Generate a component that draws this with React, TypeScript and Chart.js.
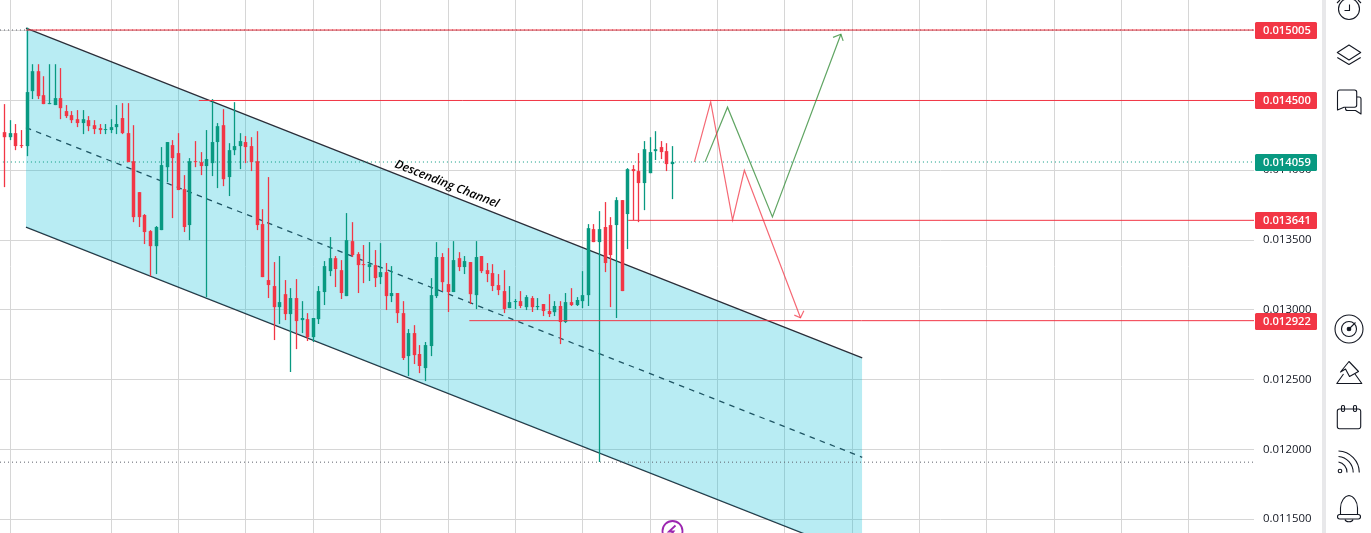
import React, { useEffect, useRef } from "react";
import { Chart, registerables } from "chart.js";

Chart.register(...registerables);

const opens = [
0.014273,0.014237,0.014266,0.014180,0.014173,0.014567,0.014710,0.014538,0.014474,0.014467,
0.014517,0.014424,0.014395,0.014366,0.014338,0.014359,0.014323,0.014302,0.014288,0.014288,
0.014309,0.014374,0.014266,0.014065,0.013843,0.013679,0.013564,0.013456,0.013571,0.014022,
0.014180,0.014123,0.013865,0.013607,0.014065,0.014058,0.014030,0.014051,0.014202,0.014323,
0.013951,0.014144,0.014173,0.014202,0.014173,0.014065,0.013614,0.013213,0.013170,0.013019,
0.013112,0.012969,0.013084,0.012926,0.012933,0.012804,0.012933,0.013127,0.013277,0.013370,
0.013284,0.013098,0.013492,0.013399,0.013327,0.013306,0.013320,0.013234,0.013270,0.013098,
0.013120,0.012976,0.012668,0.012833,0.012683,0.012582,0.012740,0.013098,0.013378,0.013184,
0.013127,0.013370,0.013306,0.013342,0.013105,0.013385,0.013284,0.013263,0.013177,0.013134,
0.013012,0.013055,0.013062,0.013019,0.013084,0.013019,0.013041,0.012991,0.012983,0.013027,
0.012912,0.013055,0.013034,0.013062,0.013105,0.013578,0.013485,0.013593,0.013607,0.013607,
0.013786,0.013686,0.014008,0.013994,0.013908,0.013979,0.014137,0.014166,0.014137,0.014044];
const closes = [
0.014237,0.014266,0.014173,0.014173,0.014560,0.014710,0.014531,0.014474,0.014481,0.014517,
0.014445,0.014388,0.014359,0.014338,0.014366,0.014316,0.014295,0.014288,0.014295,0.014309,
0.014331,0.014266,0.014058,0.013664,0.013664,0.013557,0.013456,0.013593,0.014037,0.014202,
0.014087,0.013858,0.013593,0.014065,0.014058,0.014030,0.014080,0.014202,0.014316,0.013936,
0.014144,0.014173,0.014209,0.014166,0.014058,0.013607,0.013234,0.013177,0.013019,0.013055,
0.012969,0.013084,0.012919,0.012941,0.012804,0.012941,0.013134,0.013313,0.013370,0.013292,
0.013120,0.013499,0.013392,0.013320,0.013320,0.013327,0.013227,0.013270,0.013098,0.013120,
0.012976,0.012654,0.012833,0.012675,0.012597,0.012747,0.013105,0.013378,0.013198,0.013127,
0.013356,0.013306,0.013349,0.013112,0.013378,0.013277,0.013256,0.013170,0.013141,0.013005,
0.013055,0.013062,0.013027,0.013091,0.013019,0.013027,0.012991,0.012969,0.013027,0.012912,
0.013055,0.013034,0.013070,0.013105,0.013585,0.013485,0.013578,0.013335,0.013392,0.013786,
0.013134,0.014008,0.013994,0.013908,0.014151,0.014130,0.014151,0.014130,0.014044,0.014059];
const highs = [
0.014474,0.014359,0.014331,0.014288,0.015022,0.014760,0.014760,0.014674,0.014760,0.014760,
0.014732,0.014467,0.014424,0.014431,0.014431,0.014388,0.014359,0.014331,0.014331,0.014366,
0.014467,0.014481,0.014481,0.014323,0.013843,0.013686,0.013571,0.013600,0.014166,0.014202,
0.014216,0.014266,0.013965,0.014087,0.014209,0.014130,0.014288,0.014510,0.014338,0.014438,
0.014194,0.014488,0.014266,0.014245,0.014237,0.014280,0.013721,0.013951,0.013342,0.013385,
0.013213,0.013155,0.013220,0.013062,0.012976,0.012941,0.013170,0.013349,0.013521,0.013385,
0.013356,0.013693,0.013628,0.013413,0.013464,0.013485,0.013428,0.013478,0.013335,0.013313,
0.013120,0.013062,0.012862,0.012890,0.012747,0.012769,0.013227,0.013485,0.013406,0.013442,
0.013492,0.013413,0.013385,0.013342,0.013492,0.013385,0.013335,0.013327,0.013256,0.013284,
0.013170,0.013077,0.013134,0.013105,0.013098,0.013084,0.013041,0.013112,0.013062,0.013062,
0.013120,0.013155,0.013091,0.013277,0.013614,0.013614,0.013707,0.013772,0.013664,0.013807,
0.013786,0.014015,0.014037,0.014123,0.014209,0.014237,0.014280,0.014209,0.014194,0.014173];
const lows = [
0.013879,0.014216,0.014144,0.014159,0.014101,0.014510,0.014510,0.014474,0.014474,0.014467,
0.014366,0.014374,0.014338,0.014309,0.014259,0.014280,0.014259,0.014259,0.014259,0.014266,
0.014259,0.014259,0.014058,0.013628,0.013593,0.013471,0.013241,0.013256,0.013571,0.013915,
0.013657,0.013858,0.013557,0.013499,0.014022,0.013965,0.013091,0.013958,0.013872,0.013886,
0.013815,0.014108,0.014008,0.014051,0.013994,0.013571,0.013234,0.013084,0.012783,0.012898,
0.012926,0.012554,0.012718,0.012833,0.012776,0.012769,0.012898,0.013034,0.013241,0.013163,
0.013077,0.013098,0.013378,0.013120,0.013191,0.013206,0.013163,0.013184,0.012998,0.013055,
0.012905,0.012640,0.012525,0.012611,0.012546,0.012489,0.012668,0.013084,0.013134,0.012984,
0.013127,0.013277,0.013256,0.013041,0.013005,0.013263,0.013198,0.013134,0.013105,0.012976,
0.013012,0.013005,0.013012,0.012998,0.012984,0.012998,0.012955,0.012948,0.012955,0.012754,
0.012905,0.013027,0.013027,0.013012,0.013027,0.013485,0.011909,0.013270,0.013019,0.012941,
0.013134,0.013435,0.013643,0.013628,0.013714,0.013979,0.014073,0.014080,0.013994,0.013793];

const xGridTicks = [1, 19, 31, 43, 55, 67, 79, 91, 103, 115, 127, 139, 151, 163, 175, 187, 199, 211];
const yTicks = [0.0115, 0.012, 0.0125, 0.013, 0.0135, 0.014, 0.0145, 0.015];

const channelX = [3.81, 152.8];
const channelUpper = [0.015018, 0.012656];
const channelMiddle = [0.014306, 0.011943];
const channelLower = [0.013593, 0.011231];

const xMin = -0.82;
const xMax = 222.6;
const yMin = 0.0114003;
const yMax = 0.0152201;

const levelPrices = [0.015005, 0.0145, 0.013641, 0.012922];
const levelStarts = [3.8, 34.6, 111.1, 82.8];
const lastPrice = 0.014059;
const highMark = 0.015005;
const lowMark = 0.011908;

const redPathX = [122.9, 125.8, 129.7, 131.8, 141.8];
const redPathY = [0.014060, 0.014490, 0.013643, 0.013999, 0.012943];
const redHeadX = [140.7, 141.8, 142.4];
const redHeadY = [0.012962, 0.012943, 0.012993];
const greenPathX = [124.8, 128.8, 136.8, 149.0];
const greenPathY = [0.014060, 0.014452, 0.013666, 0.014975];
const greenHeadX = [147.6, 149.0, 149.4];
const greenHeadY = [0.014952, 0.014975, 0.014927];

const tagValues = [0.015005, 0.0145, 0.014059, 0.013641, 0.012922];
const tagKinds = ["red", "red", "green", "red", "red"];

const channelLabel = "Descending Channel";
const channelLabelX = 78.8;
const channelLabelY = 0.013900;

const RED = "#F23645";
const GREEN = "#089981";
const GRID = "#d6d6d6";

const zip = (xs: number[], ys: number[]) => xs.map((x, i) => ({ x, y: ys[i] }));

const lineSet = (points: { x: number; y: number }[], color: string, order: number, extra: object = {}) => ({
  type: "line" as const,
  data: points,
  borderColor: color,
  borderWidth: 1,
  pointRadius: 0,
  tension: 0,
  fill: false,
  order,
  ...extra,
});

const overlayPlugin = {
  id: "overlays",
  afterDatasetsUpdate(chart: any) {
    chart.data.datasets.forEach((d: any, i: number) => {
      if (d.type !== "bar") return;
      chart.getDatasetMeta(i).data.forEach((el: any) => {
        el.x = Math.floor(el.x) + 0.5;
      });
    });
  },
  afterDraw(chart: any) {
    const { ctx, scales } = chart;
    const y = scales.y;
    const x = scales.x;
    ctx.save();
    tagValues.forEach((v, i) => {
      const py = Math.round(y.getPixelForValue(v)) + 0.5;
      ctx.fillStyle = tagKinds[i] === "red" ? RED : GREEN;
      ctx.beginPath();
      ctx.roundRect(1255, py - 8.5, 62, 17, 1.5);
      ctx.fill();
      ctx.fillStyle = "#ffffff";
      ctx.font = "600 11.2px 'Open Sans'";
      ctx.textAlign = "left";
      ctx.textBaseline = "middle";
      ctx.fillText(v.toFixed(6), 1263, py + 0.5);
    });
    ctx.translate(x.getPixelForValue(channelLabelX), y.getPixelForValue(channelLabelY));
    ctx.rotate((21.5 * Math.PI) / 180);
    ctx.fillStyle = "#000000";
    ctx.font = "italic 600 12px 'Open Sans'";
    ctx.textAlign = "center";
    ctx.textBaseline = "middle";
    ctx.fillText(channelLabel, 0, 0);
    ctx.restore();
  },
};

const noPadding = (s: any) => {
  s.paddingTop = 0;
  s.paddingBottom = 0;
  s.paddingLeft = 0;
  s.paddingRight = 0;
};

export default function App() {
  const ref = useRef<HTMLCanvasElement | null>(null);

  useEffect(() => {
    document.body.style.margin = "0";
    const candleColors = opens.map((o, i) => (closes[i] >= o ? GREEN : RED));
    const chart = new Chart(ref.current as HTMLCanvasElement, {
      type: "bar",
      data: {
        datasets: [
          lineSet(zip(channelX, channelUpper), "#2a2e39", 10, {
            borderWidth: 1.3,
            fill: { target: 1, above: "rgba(0,188,212,0.28)", below: "rgba(0,188,212,0.28)" },
          }),
          lineSet(zip(channelX, channelLower), "#2a2e39", 10, { borderWidth: 1.3 }),
          lineSet(zip(channelX, channelMiddle), "#2a2e39", 10, { borderWidth: 1.3, borderDash: [5.5, 5.3] }),
          lineSet(zip([xMin, xMax], [highMark, highMark]), "#5d606b", 9, { borderDash: [1, 3] }),
          lineSet(zip([xMin, xMax], [lowMark, lowMark]), "#5d606b", 9, { borderDash: [1, 3] }),
          lineSet(zip([-0.3, xMax], [lastPrice, lastPrice]), GREEN, 9, { borderDash: [1, 3] }),
          {
            type: "bar" as const,
            data: lows.map((l, i) => ({ x: i, y: [l, highs[i]] })),
            backgroundColor: candleColors,
            barThickness: 1.3,
            inflateAmount: 0,
            grouped: false,
            order: 6,
          },
          {
            type: "bar" as const,
            data: opens.map((o, i) => ({ x: i, y: [o, closes[i]] })),
            backgroundColor: candleColors,
            barThickness: 3.5,
            inflateAmount: 0,
            minBarLength: 1,
            grouped: false,
            order: 5,
          },
          ...levelPrices.map((p, i) => lineSet(zip([levelStarts[i], xMax], [p, p]), RED, 3)),
          lineSet(zip(redPathX, redPathY), "rgba(242,54,69,0.75)", 2, { borderWidth: 1.2 }),
          lineSet(zip(redHeadX, redHeadY), "rgba(242,54,69,0.75)", 2, { borderWidth: 1.2 }),
          lineSet(zip(greenPathX, greenPathY), "rgba(56,142,60,0.8)", 2, { borderWidth: 1.2 }),
          lineSet(zip(greenHeadX, greenHeadY), "rgba(56,142,60,0.8)", 2, { borderWidth: 1.2 }),
        ],
      },
      options: {
        responsive: false,
        animation: false,
        devicePixelRatio: 1,
        layout: { padding: 0 },
        plugins: { legend: { display: false }, tooltip: { enabled: false } },
        scales: {
          x: {
            type: "linear",
            min: xMin,
            max: xMax,
            offset: false,
            display: true,
            border: { display: false },
            grid: { color: GRID, offset: false, drawTicks: false, lineWidth: 1 },
            ticks: { display: false },
            afterBuildTicks: (s: any) => {
              s.ticks = xGridTicks.map((value) => ({ value }));
            },
            afterFit: (s: any) => {
              s.height = 0;
              noPadding(s);
            },
          },
          y: {
            type: "linear",
            position: "right",
            min: yMin,
            max: yMax,
            beginAtZero: false,
            border: { display: false },
            grid: { color: GRID, drawTicks: false, lineWidth: 1 },
            ticks: {
              padding: 9,
              color: "#131722",
              font: { family: "'Open Sans'", size: 11.4 },
              callback: (v: any) => Number(v).toFixed(6),
            },
            afterBuildTicks: (s: any) => {
              s.ticks = yTicks.map((value) => ({ value }));
            },
            afterFit: (s: any) => {
              s.width = 117;
              noPadding(s);
            },
          },
        },
      } as any,
      plugins: [overlayPlugin],
    } as any);
    return () => chart.destroy();
  }, []);

  const ic = { fill: "none", stroke: "#131722", strokeWidth: 1.1, strokeLinejoin: "round" as const };

  return (
    <div style={{ position: "relative", width: 1371, height: 533, overflow: "hidden", background: "#fff" }}>
      <canvas ref={ref} width={1371} height={533} style={{ display: "block", width: 1371, height: 533 }} />
      <div style={{ position: "absolute", left: 1322, top: 0, width: 4, height: 533, background: "#e8e8ea" }} />
      <svg width={1371} height={533} style={{ position: "absolute", left: 0, top: 0, pointerEvents: "none" }}>
        <g {...ic}>
          <circle cx={1349} cy={9} r={10.5} />
          <path d="M1349.5 4.5V10.5H1344.5M1337 3L1340 0M1361 3L1358 0" />
          <path d="M1349 45L1360.7 52.5L1349 60L1337.3 52.5Z" />
          <path d="M1337.3 57.5L1349 64.5L1360.7 57.5" />
          <path d="M1339.5 90H1354.5A2.2 2.2 0 0 1 1356.7 92.2V105A2.2 2.2 0 0 1 1354.5 107.2H1344L1337.5 110V92.2A2.2 2.2 0 0 1 1339.5 90Z" />
          <path d="M1357 97H1359A2 2 0 0 1 1361 99V114L1355.5 110.5H1347.5A2 2 0 0 1 1345.5 108.5V107.2" />
          <circle cx={1349} cy={329} r={14} />
          <circle cx={1349} cy={329} r={7.5} />
          <circle cx={1349} cy={329} r={1.8} fill="#131722" />
          <path d="M1349 329L1355.5 322.5" />
          <path d="M1349 361.5L1340.5 372L1345.5 369L1349.5 376.5L1358.5 371.5Z" />
          <path d="M1343.5 374L1336.8 383.5H1361.8L1355 374" />
          <path d="M1339.5 409H1341.5M1345 409H1353M1357 409H1358.5A2.2 2.2 0 0 1 1360.7 411.2V426.5A2.2 2.2 0 0 1 1358.5 428.7H1339.5A2.2 2.2 0 0 1 1337.3 426.5V411.2A2.2 2.2 0 0 1 1339.5 409Z" />
          <rect x={1341.5} y={405.5} width={3} height={6} rx={1.2} />
          <rect x={1353.5} y={405.5} width={3} height={6} rx={1.2} />
          <circle cx={1340} cy={471} r={1.8} />
          <path d="M1338.5 462A10.5 10.5 0 0 1 1347 472.5" />
          <path d="M1338.5 456.5A16 16 0 0 1 1353.2 472.5" />
          <path d="M1338.5 451A21.5 21.5 0 0 1 1359.3 472.5" />
          <path d="M1340.5 514.5V508C1340.5 501.5 1344.5 496 1349 495.5C1353.5 496 1357.5 501.5 1357.5 508V514.5" />
          <rect x={1337.5} y={514.5} width={23} height={4.5} rx={2.2} />
          <path d="M1345 519.5C1346 522.5 1352 522.5 1353 519.5" />
        </g>
        <circle cx={672.5} cy={531} r={10} fill="#fff" stroke="#9c27b0" strokeWidth={1.8} />
        <path d="M675.5 525.5L669 531.5H673.5L670 536" fill="none" stroke="#9c27b0" strokeWidth={1.8} />
      </svg>
    </div>
  );
}
